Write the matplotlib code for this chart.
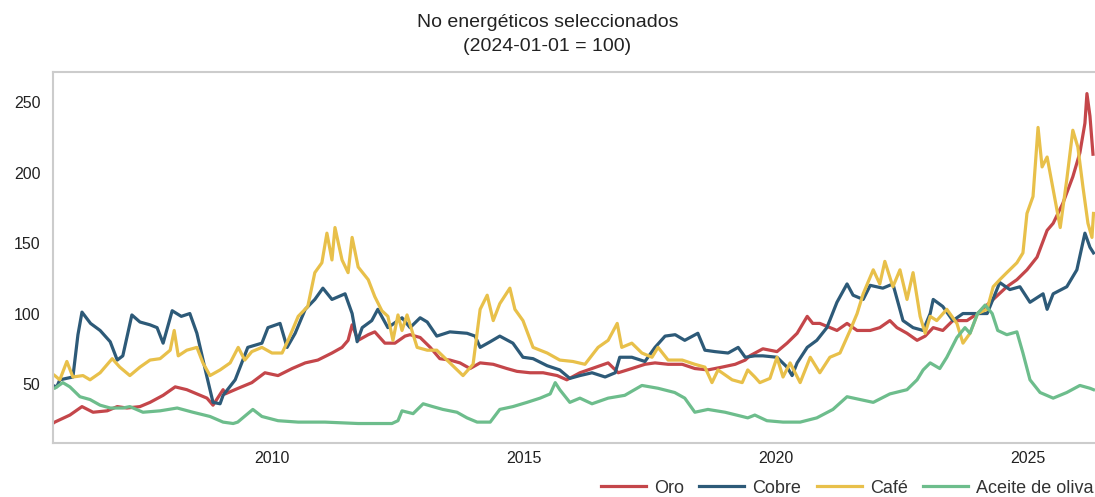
import matplotlib
matplotlib.use("Agg")
import matplotlib.pyplot as plt

plt.rcParams['font.family'] = ['Liberation Sans', 'DejaVu Sans']

# --- Data (2024-01-01 = 100) ---
oro_t = [2005.65, 2005.69, 2005.99, 2006.23, 2006.45, 2006.73, 2006.93, 2007.12, 2007.38, 2007.58,
         2007.84, 2008.08, 2008.31, 2008.51, 2008.71, 2008.83, 2009.03, 2009.07, 2009.33, 2009.60,
         2009.86, 2010.12, 2010.40, 2010.66, 2010.91, 2011.19, 2011.39, 2011.51, 2011.59, 2011.71,
         2011.91, 2012.04, 2012.24, 2012.44, 2012.64, 2012.74, 2012.94, 2013.14, 2013.33, 2013.53,
         2013.73, 2013.93, 2014.13, 2014.39, 2014.66, 2014.86, 2015.12, 2015.38, 2015.66, 2015.85,
         2016.11, 2016.35, 2016.67, 2016.87, 2017.14, 2017.40, 2017.60, 2017.86, 2018.14, 2018.39,
         2018.65, 2018.93, 2019.19, 2019.39, 2019.48, 2019.74, 2020.02, 2020.22, 2020.42, 2020.62,
         2020.73, 2020.87, 2021.21, 2021.41, 2021.61, 2021.87, 2022.06, 2022.26, 2022.40, 2022.60,
         2022.80, 2022.96, 2023.12, 2023.31, 2023.51, 2023.79, 2024.00, 2024.31, 2024.58, 2024.78,
         2024.98, 2025.18, 2025.38, 2025.50, 2025.69, 2025.89, 2026.03, 2026.13, 2026.17, 2026.23,
         2026.29]
oro_v = [22, 23, 28, 34, 30, 31, 34, 33, 34, 37,
         42, 48, 46, 43, 40, 35, 46, 43, 47, 51,
         58, 56, 61, 65, 67, 72, 76, 81, 92, 81,
         85, 87, 79, 79, 84, 85, 83, 76, 68, 67,
         65, 61, 65, 64, 61, 59, 58, 58, 56, 53,
         58, 61, 65, 58, 61, 64, 65, 64, 64, 61,
         60, 62, 64, 67, 70, 75, 73, 79, 86, 98,
         93, 93, 88, 93, 88, 88, 90, 95, 90, 86,
         81, 84, 90, 88, 95, 95, 100, 110, 119, 124,
         131, 140, 159, 164, 178, 197, 214, 235, 256, 240,
         213]

cobre_t = [2005.65, 2005.73, 2005.79, 2006.05, 2006.15, 2006.23, 2006.40, 2006.59, 2006.79, 2006.93,
           2007.04, 2007.22, 2007.38, 2007.58, 2007.72, 2007.84, 2008.02, 2008.20, 2008.37, 2008.51,
           2008.71, 2008.83, 2008.97, 2009.03, 2009.27, 2009.52, 2009.80, 2009.92, 2010.16, 2010.30,
           2010.46, 2010.66, 2010.85, 2011.01, 2011.19, 2011.45, 2011.59, 2011.69, 2011.79, 2011.98,
           2012.10, 2012.30, 2012.58, 2012.74, 2012.94, 2013.08, 2013.27, 2013.53, 2013.87, 2014.03,
           2014.13, 2014.33, 2014.52, 2014.78, 2014.98, 2015.18, 2015.46, 2015.71, 2015.91, 2016.11,
           2016.35, 2016.61, 2016.81, 2016.90, 2017.14, 2017.40, 2017.60, 2017.80, 2018.00, 2018.19,
           2018.45, 2018.59, 2018.79, 2019.05, 2019.25, 2019.39, 2019.58, 2019.74, 2020.02, 2020.22,
           2020.32, 2020.42, 2020.62, 2020.81, 2021.01, 2021.21, 2021.41, 2021.53, 2021.73, 2021.87,
           2022.12, 2022.32, 2022.52, 2022.72, 2022.92, 2023.06, 2023.12, 2023.31, 2023.51, 2023.71,
           2024.00, 2024.19, 2024.44, 2024.64, 2024.84, 2025.04, 2025.30, 2025.38, 2025.50, 2025.77,
           2025.97, 2026.13, 2026.23, 2026.30]
cobre_v = [49, 48, 53, 55, 85, 101, 93, 88, 80, 67,
           70, 99, 94, 92, 90, 79, 102, 98, 100, 86,
           55, 37, 36, 42, 53, 76, 79, 90, 93, 76,
           86, 103, 110, 118, 110, 114, 100, 80, 90, 95,
           103, 90, 97, 90, 97, 94, 84, 87, 86, 84,
           76, 80, 84, 79, 69, 68, 63, 60, 54, 56,
           58, 55, 58, 69, 69, 66, 76, 84, 85, 81,
           86, 74, 73, 72, 76, 69, 70, 70, 69, 62,
           56, 65, 76, 81, 90, 108, 121, 113, 110, 120,
           118, 121, 95, 90, 88, 100, 110, 105, 95, 100,
           100, 100, 122, 117, 119, 108, 114, 103, 114, 119,
           131, 157, 147, 143]

cafe_t = [2005.65, 2005.69, 2005.79, 2005.93, 2006.05, 2006.25, 2006.39, 2006.59, 2006.83, 2006.98,
          2007.18, 2007.38, 2007.58, 2007.78, 2007.98, 2008.06, 2008.14, 2008.31, 2008.51, 2008.63,
          2008.77, 2008.97, 2009.17, 2009.33, 2009.46, 2009.60, 2009.80, 2010.00, 2010.20, 2010.32,
          2010.52, 2010.71, 2010.85, 2010.99, 2011.09, 2011.19, 2011.25, 2011.39, 2011.51, 2011.59,
          2011.71, 2011.91, 2012.04, 2012.18, 2012.30, 2012.40, 2012.50, 2012.58, 2012.68, 2012.88,
          2013.08, 2013.27, 2013.53, 2013.79, 2013.99, 2014.13, 2014.27, 2014.39, 2014.52, 2014.72,
          2014.82, 2014.98, 2015.18, 2015.46, 2015.71, 2015.97, 2016.21, 2016.47, 2016.67, 2016.85,
          2016.94, 2017.14, 2017.34, 2017.54, 2017.66, 2017.86, 2018.14, 2018.39, 2018.59, 2018.73,
          2018.85, 2019.13, 2019.33, 2019.44, 2019.58, 2019.68, 2019.88, 2020.02, 2020.14, 2020.28,
          2020.48, 2020.68, 2020.87, 2021.07, 2021.27, 2021.47, 2021.61, 2021.73, 2021.93, 2022.06,
          2022.16, 2022.32, 2022.46, 2022.60, 2022.72, 2022.86, 2022.96, 2023.06, 2023.19, 2023.39,
          2023.59, 2023.71, 2023.85, 2024.00, 2024.19, 2024.31, 2024.44, 2024.58, 2024.78, 2024.90,
          2024.98, 2025.10, 2025.20, 2025.28, 2025.38, 2025.50, 2025.64, 2025.77, 2025.89, 2025.99,
          2026.09, 2026.19, 2026.27, 2026.30]
cafe_v = [57, 56, 53, 66, 55, 56, 53, 58, 68, 62,
          56, 62, 67, 68, 74, 88, 70, 74, 76, 65,
          56, 60, 65, 76, 67, 73, 76, 72, 72, 81,
          98, 105, 129, 136, 157, 138, 161, 138, 129, 154,
          133, 124, 112, 102, 98, 81, 99, 88, 99, 76,
          74, 74, 65, 56, 64, 103, 113, 95, 107, 118,
          103, 95, 76, 72, 67, 66, 64, 76, 81, 93,
          76, 79, 72, 69, 76, 67, 67, 64, 62, 51,
          60, 53, 51, 60, 55, 51, 54, 69, 55, 65,
          51, 69, 58, 69, 72, 88, 100, 114, 131, 121,
          137, 119, 131, 110, 129, 98, 86, 98, 95, 103,
          93, 79, 86, 100, 103, 119, 124, 129, 136, 143,
          171, 183, 232, 204, 211, 188, 161, 195, 230, 218,
          190, 164, 154, 171]

aceite_t = [2005.65, 2005.69, 2005.85, 2005.99, 2006.19, 2006.39, 2006.59, 2006.79, 2007.04, 2007.18,
            2007.44, 2007.78, 2008.12, 2008.43, 2008.77, 2009.03, 2009.23, 2009.32, 2009.52, 2009.62,
            2009.80, 2010.12, 2010.52, 2011.05, 2011.71, 2012.38, 2012.50, 2012.58, 2012.80, 2013.00,
            2013.19, 2013.39, 2013.67, 2013.87, 2014.07, 2014.33, 2014.52, 2014.78, 2015.06, 2015.32,
            2015.52, 2015.62, 2015.71, 2015.91, 2016.11, 2016.35, 2016.67, 2017.00, 2017.34, 2017.66,
            2017.99, 2018.19, 2018.39, 2018.65, 2018.99, 2019.33, 2019.44, 2019.58, 2019.82, 2020.14,
            2020.48, 2020.81, 2021.13, 2021.41, 2021.67, 2021.93, 2022.26, 2022.60, 2022.80, 2022.92,
            2023.06, 2023.25, 2023.39, 2023.59, 2023.75, 2023.85, 2024.00, 2024.15, 2024.29, 2024.40,
            2024.58, 2024.78, 2024.90, 2025.04, 2025.24, 2025.50, 2025.77, 2026.03, 2026.23, 2026.30]
aceite_v = [47, 47, 51, 48, 41, 39, 35, 33, 33, 34,
            30, 31, 33, 30, 27, 23, 22, 23, 29, 32,
            27, 24, 23, 23, 22, 22, 24, 31, 29, 36,
            34, 32, 30, 26, 23, 23, 32, 34, 37, 40,
            43, 51, 46, 37, 40, 36, 40, 42, 49, 47,
            44, 40, 30, 32, 30, 27, 26, 28, 24, 23,
            23, 26, 32, 41, 39, 37, 43, 46, 53, 60,
            65, 61, 69, 83, 90, 86, 100, 106, 100, 88,
            85, 87, 72, 53, 44, 40, 44, 49, 47, 46]

series = [
    ("Oro", oro_t, oro_v, "#C4464A"),
    ("Cobre", cobre_t, cobre_v, "#2D5A78"),
    ("Café", cafe_t, cafe_v, "#E8C04A"),
    ("Aceite de oliva", aceite_t, aceite_v, "#6DBD8C"),
]

fig = plt.figure(figsize=(10.95, 4.97), dpi=100)
ax = fig.add_axes([0.0484, 0.1087, 0.9516, 0.7464])

for name, t, v, color in series:
    ax.plot(t, v, color=color, linewidth=2.3, label=name)

ax.set_xlim(2005.655, 2026.33)
ax.set_ylim(8.2, 271.3)
ax.set_xticks([2010, 2015, 2020, 2025])
ax.set_xticklabels(["2010", "2015", "2020", "2025"])
ax.set_yticks([50, 100, 150, 200, 250])
ax.tick_params(axis="both", length=0, labelsize=11.5, labelcolor="#222222")
ax.tick_params(axis="y", pad=9)
ax.tick_params(axis="x", pad=6)

for side in ["left", "top", "bottom"]:
    ax.spines[side].set_color("#CCCCCC")
    ax.spines[side].set_linewidth(1.5)
ax.spines["right"].set_visible(False)

fig.suptitle("No energéticos seleccionados\n(2024-01-01 = 100)", x=0.5, y=0.972,
             fontsize=14, color="#222222", linespacing=1.55)

fig.legend(loc="center right", bbox_to_anchor=(0.999, 0.018), ncol=4, frameon=False,
           fontsize=13, handlelength=2.5, handletextpad=0.45, columnspacing=0.85,
           borderaxespad=0, borderpad=0, labelcolor="#333333")

plt.savefig("out.png", dpi=100)
